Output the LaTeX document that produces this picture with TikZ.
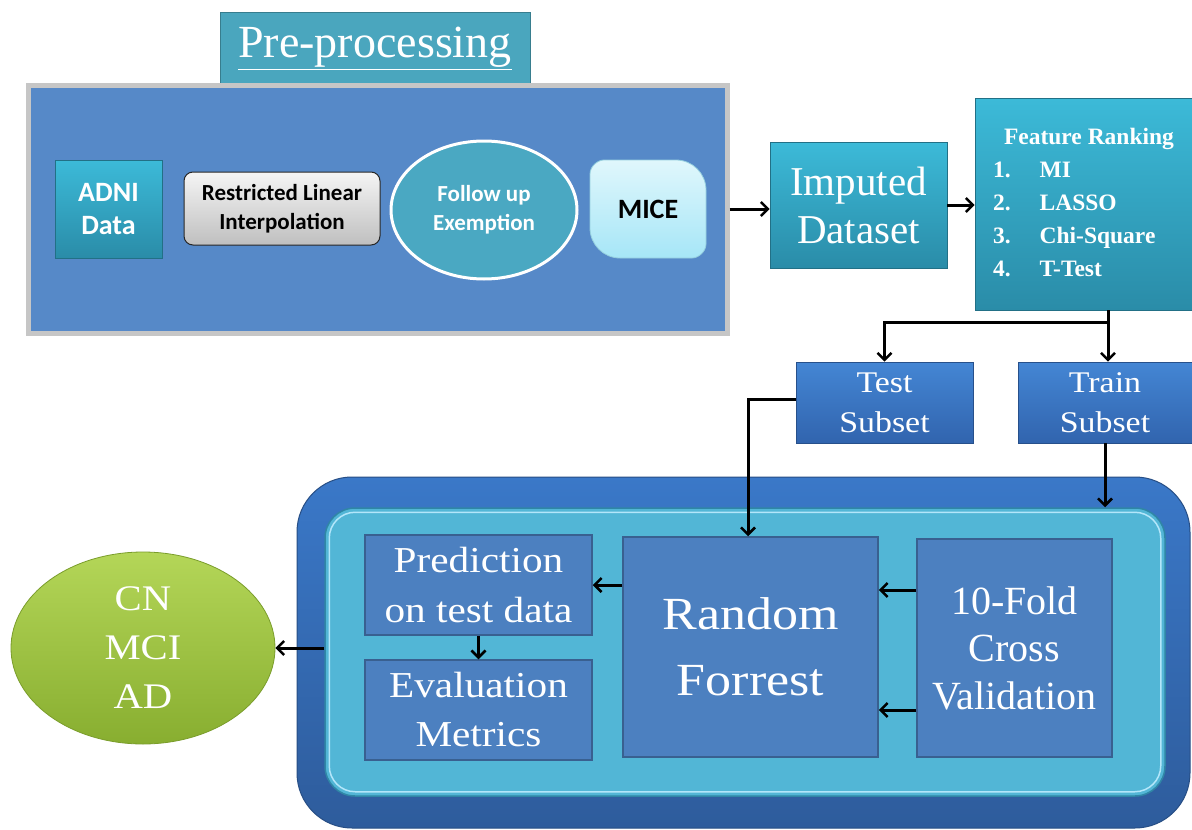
\documentclass[tikz,border=0pt]{standalone}
\usepackage{fontspec}
\setmainfont{Liberation Serif}
\newfontfamily\calib{Carlito}
\newfontfamily\wideserif{Liberation Serif}[FakeStretch=1.13]
\usetikzlibrary{arrows.meta,shapes.geometric}
\definecolor{tealA}{HTML}{3CBAD8}
\definecolor{tealB}{HTML}{2A8CA8}
\definecolor{titleC}{HTML}{4AA6BE}
\definecolor{preC}{HTML}{5689C8}
\definecolor{ellC}{HTML}{4AA8C2}
\definecolor{miceA}{HTML}{E0F7FC}
\definecolor{miceB}{HTML}{A6E6F7}
\definecolor{subA}{HTML}{4486D4}
\definecolor{subB}{HTML}{3164AE}
\definecolor{bigA}{HTML}{3A78C8}
\definecolor{bigB}{HTML}{2E5C9C}
\definecolor{innerC}{HTML}{52B6D6}
\definecolor{innerD}{HTML}{2F86A6}
\definecolor{cellC}{HTML}{4C80C0}
\definecolor{greenA}{HTML}{B4D658}
\definecolor{greenB}{HTML}{88AE30}
\tikzset{
  arr/.style={line width=3pt, -{Straight Barb[length=7pt,width=14pt,line width=2.5pt]}},
  plain/.style={line width=3pt},
  tealbox/.style={rectangle, top color=tealA, bottom color=tealB, draw=tealB!80!black, line width=0.8pt, inner sep=0pt, text=white, align=center},
  subbox/.style={rectangle, top color=subA, bottom color=subB, draw=subB!80!black, line width=0.8pt, inner sep=0pt, text=white, align=center, font=\wideserif\fontsize{30}{40}\selectfont},
  cellbox/.style={rectangle, fill=cellC, draw=cellC!75!black, line width=1.5pt, inner sep=0pt, text=white, align=center},
}
\begin{document}
\begin{tikzpicture}[x=1pt,y=-1pt]
\useasboundingbox (0,0) rectangle (1192,830);
\fill[white] (0,0) rectangle (1192,830);

% Pre-processing panel
\node[rectangle, fill=titleC, draw=titleC!75!black, line width=1pt, minimum width=310pt, minimum height=73pt, inner sep=0pt, text=white, font=\fontsize{46}{50}\selectfont] (title) at (375,48.5) {\underline{Pre-processing}};
\node[rectangle, fill=preC, draw=gray!45, line width=5pt, minimum width=699pt, minimum height=248pt, inner sep=0pt] (pre) at (377.5,209) {};

\node[tealbox, minimum width=107pt, minimum height=98pt, font=\calib\bfseries\fontsize{28}{33}\selectfont] (adni) at (108.5,209) {ADNI\\Data};
\node[rectangle, rounded corners=9pt, top color=gray!8, bottom color=gray!50, draw=gray!30!black, line width=1pt, minimum width=196pt, minimum height=73pt, inner sep=0pt, align=center, font=\calib\bfseries\fontsize{23}{29}\selectfont] (rli) at (282,208.5) {Restricted Linear\\Interpolation};
\node[ellipse, fill=ellC, draw=white, line width=3pt, minimum width=186pt, minimum height=138pt, inner sep=0pt, text=white, align=center, font=\calib\bfseries\fontsize{23}{29}\selectfont] (follow) at (484,210) {Follow up\\Exemption};
% MICE: rounded rectangle with larger top-right and bottom-left corners
\shade[top color=miceA, bottom color=miceB, draw=miceB!90!black, line width=0.8pt]
  (590,174) .. controls (590,166.3) and (597.7,160) .. (604,160)
  -- (676,160) .. controls (692.5,160) and (706,173.5) .. (706,190)
  -- (706,244) .. controls (706,251.7) and (698.3,258) .. (692,258)
  -- (620,258) .. controls (603.5,258) and (590,244.5) .. (590,228) -- cycle;
\node[inner sep=0pt, minimum width=116pt, minimum height=98pt, font=\calib\bfseries\fontsize{28}{30}\selectfont] (mice) at (648,209) {MICE};

% Imputed dataset and feature ranking
\node[tealbox, minimum width=177pt, minimum height=126pt, font=\fontsize{41}{48}\selectfont] (imp) at (858.5,205) {Imputed\\Dataset};
\node[tealbox, minimum width=217pt, minimum height=212pt, font=\bfseries\fontsize{23.5}{33}\selectfont] (feat) at (1083.5,204)
  {\raisebox{-4pt}{\begin{tabular}{@{}l@{\hspace{29pt}}l@{}}\multicolumn{2}{@{}l@{}}{\hspace{11pt}Feature Ranking\hspace{6pt}}\\ 1. & MI\\ 2. & LASSO\\ 3. & Chi-Square\\ 4. & T-Test\end{tabular}}};

% Subsets
\node[subbox, minimum width=177pt, minimum height=81pt] (test) at (884.5,402.5) {Test\\Subset};
\node[subbox, minimum width=174pt, minimum height=81pt] (train) at (1105,402.5) {Train\\Subset};

% Bottom classification panel
\node[rectangle, rounded corners=55pt, top color=bigA, bottom color=bigB, draw=bigB!85!black, line width=1pt, minimum width=893pt, minimum height=351pt, inner sep=0pt] (big) at (743.5,652.5) {};
\node[rectangle, rounded corners=30pt, fill=innerC, draw=innerD, line width=1.5pt, minimum width=840pt, minimum height=288pt, inner sep=0pt] (inner) at (745,652) {};
\draw[cyan!30, line width=1.5pt, rounded corners=26pt] ([shift={(5pt,-5pt)}]inner.north west) rectangle ([shift={(-5pt,5pt)}]inner.south east);

\node[cellbox, minimum width=227pt, minimum height=100pt, font=\wideserif\fontsize{36.5}{50}\selectfont] (pred) at (478.5,585) {Prediction\\on test data};
\node[cellbox, minimum width=227pt, minimum height=100pt, font=\wideserif\fontsize{36.5}{49}\selectfont] (eval) at (478.5,710) {Evaluation\\Metrics};
\node[cellbox, minimum width=255pt, minimum height=220pt, font=\wideserif\fontsize{46}{66}\selectfont] (rf) at (750.5,647) {Random\\Forrest};
\node[cellbox, minimum width=195pt, minimum height=218pt, font=\fontsize{40}{47.5}\selectfont] (cv) at (1014.5,648) {10-Fold\\Cross\\Validation};

\node[ellipse, top color=greenA, bottom color=greenB, draw=greenB!90!black, line width=0.8pt, minimum width=264pt, minimum height=192pt, inner sep=0pt, text=white, align=center, font=\wideserif\fontsize{36}{49}\selectfont] (cls) at (143,648) {CN\\MCI\\AD};

% connectors
\coordinate (split) at (1108,322);
\coordinate (turn) at (748,399);
\coordinate (cvA) at (0,590);
\coordinate (cvB) at (0,710);

\draw[arr] (pre.east) -- (pre.east -| imp.west);
\draw[arr] (imp.east) -- (imp.east -| feat.west);
\draw[plain] (split |- feat.south) -- (split);
\draw[arr] (split) -| (test.north);
\draw[arr] (split) -- (split |- train.north);
\draw[arr] (test.west |- turn) -- (turn) -- (turn |- rf.north);
\draw[arr] (train.south) -- (train.south |- inner.north);
\draw[arr] (cv.west |- cvA) -- (rf.east |- cvA);
\draw[arr] (cv.west |- cvB) -- (rf.east |- cvB);
\draw[arr] (rf.west |- pred.east) -- (pred.east);
\draw[arr] (pred.south) -- (eval.north);
\draw[arr] (inner.west |- cls.east) -- (cls.east);
\end{tikzpicture}
\end{document}
